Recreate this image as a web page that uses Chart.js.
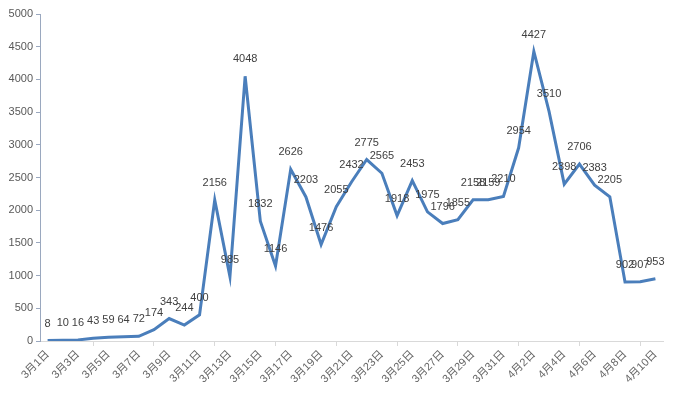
<!DOCTYPE html>
<html>
<head>
<meta charset="utf-8">
<script src="https://cdn.jsdelivr.net/npm/chart.js@4.4.1/dist/chart.umd.min.js"></script>
<style>
  body { margin: 0; background: #fff; }
  #wrap { width: 677px; height: 398px; }
</style>
</head>
<body>
<div id="wrap"><canvas id="trend" width="677" height="398"></canvas></div>
<script>
const dates = [
  '3月1日', '3月2日', '3月3日', '3月4日', '3月5日', '3月6日', '3月7日', '3月8日', '3月9日', '3月10日',
  '3月11日', '3月12日', '3月13日', '3月14日', '3月15日', '3月16日', '3月17日', '3月18日', '3月19日', '3月20日',
  '3月21日', '3月22日', '3月23日', '3月24日', '3月25日', '3月26日', '3月27日', '3月28日', '3月29日', '3月30日',
  '3月31日', '4月1日', '4月2日', '4月3日', '4月4日', '4月5日', '4月6日', '4月7日', '4月8日', '4月9日', '4月10日'
];
const counts = [
  8, 10, 16, 43, 59, 64, 72, 174, 343, 244,
  400, 2156, 985, 4048, 1832, 1146, 2626, 2203, 1476, 2055,
  2432, 2775, 2565, 1918, 2453, 1975, 1796, 1855, 2158, 2159,
  2210, 2954, 4427, 3510, 2398, 2706, 2383, 2205, 902, 907, 953
];
const yTicks = [0, 500, 1000, 1500, 2000, 2500, 3000, 3500, 4000, 4500, 5000];

const textFont = '"Liberation Sans", "Noto Sans CJK SC", sans-serif';

// simple value labels above each point
const pointLabels = {
  id: 'pointLabels',
  afterDatasetsDraw(chart) {
    const c = chart.ctx;
    const meta = chart.getDatasetMeta(0);
    c.save();
    c.font = '11px ' + textFont;
    c.fillStyle = '#404040';
    c.textAlign = 'center';
    c.textBaseline = 'middle';
    meta.data.forEach((pt, i) => {
      c.fillText(String(counts[i]), pt.x, pt.y - 17);
    });
    c.restore();
  }
};

new Chart(document.getElementById('trend'), {
  type: 'line',
  data: {
    labels: dates,
    datasets: [{
      data: counts,
      borderColor: '#4a7ebb',
      borderWidth: 3,
      pointRadius: 0,
      tension: 0,
      fill: false
    }]
  },
  options: {
    responsive: false,
    animation: false,
    layout: { padding: { top: 14, right: 14, left: 0, bottom: 0 } },
    plugins: { legend: { display: false }, tooltip: { enabled: false } },
    scales: {
      x: {
        offset: true,
        grid: {
          offset: true,
          drawOnChartArea: false,
          drawTicks: true,
          tickLength: 5,
          color: (ctx) => (ctx.index % 2 === 0 ? '#d9d9d9' : 'rgba(0,0,0,0)')
        },
        border: { display: true, color: '#d9d9d9' },
        ticks: {
          autoSkip: false,
          maxRotation: 45,
          minRotation: 45,
          color: '#666666',
          font: { family: textFont, size: 11 },
          padding: 2,
          callback: (v, i) => (i % 2 === 0 ? dates[i] : null)
        },
        afterFit: (scale) => { scale.height = 57; }
      },
      y: {
        min: yTicks[0],
        max: yTicks[yTicks.length - 1],
        afterBuildTicks: (scale) => { scale.ticks = yTicks.map((v) => ({ value: v })); },
        grid: {
          drawOnChartArea: false,
          drawTicks: true,
          tickLength: 4,
          color: '#9aa8bf'
        },
        border: { display: true, color: '#9aa8bf' },
        ticks: {
          color: '#595959',
          font: { family: textFont, size: 11 },
          padding: 3,
          callback: (v) => String(v)
        },
        afterFit: (scale) => { scale.width = 40; }
      }
    }
  },
  plugins: [pointLabels]
});
</script>
</body>
</html>
